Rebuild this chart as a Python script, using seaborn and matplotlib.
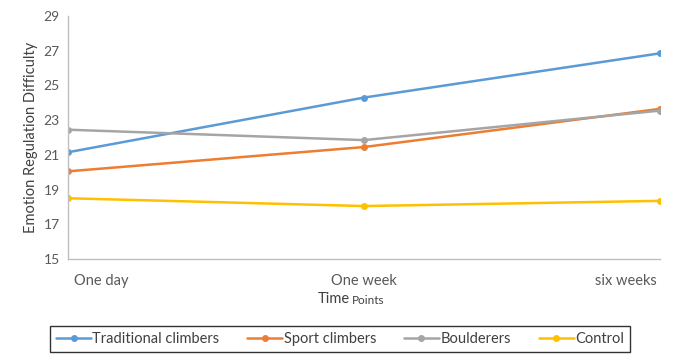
import pandas as pd
import matplotlib
matplotlib.use("Agg")
import matplotlib.pyplot as plt
import matplotlib.transforms as mtransforms
import seaborn as sns

time_points = ["One day", "One week", "six weeks"]
traditional = [21.15, 24.3, 26.85]
sport = [20.05, 21.45, 23.65]
boulderers = [22.45, 21.85, 23.55]
control = [18.5, 18.05, 18.35]

groups = ["Traditional climbers", "Sport climbers", "Boulderers", "Control"]
colors = ["#5B9BD5", "#ED7D31", "#A5A5A5", "#FFC000"]

df = pd.DataFrame({
    "Time": time_points * 4,
    "Score": traditional + sport + boulderers + control,
    "Group": [g for g in groups for _ in time_points],
})

sns.set_style("white")
plt.rcParams["font.family"] = ["Lato", "DejaVu Sans"]

fig = plt.figure(figsize=(6.79, 3.61), dpi=100)
ax = fig.add_axes([68 / 679, 1 - 259 / 361, (660 - 68) / 679, (259 - 16) / 361])

sns.lineplot(data=df, x="Time", y="Score", hue="Group", palette=colors,
             marker="o", markersize=5, markeredgewidth=0, linewidth=1.8,
             sort=False, ax=ax, legend=True)

ax.set_xlim(0, 2)
ax.set_ylim(15, 29)
ax.set_yticks(range(15, 30, 2))
ax.tick_params(axis="y", labelsize=10, colors="#595959", length=0, pad=6)
ax.tick_params(axis="x", length=0, pad=11)
ax.set_xticks([0, 1, 2])
ax.set_xticklabels(time_points, fontsize=10.5, color="#595959")
labels = ax.get_xticklabels()
labels[0].set_ha("left")
labels[0].set_transform(labels[0].get_transform()
                        + mtransforms.ScaledTranslation(6 / 100, 0, fig.dpi_scale_trans))
labels[2].set_ha("right")
labels[2].set_transform(labels[2].get_transform()
                        + mtransforms.ScaledTranslation(-3 / 100, 0, fig.dpi_scale_trans))

for side in ["top", "right"]:
    ax.spines[side].set_visible(False)
for side in ["left", "bottom"]:
    ax.spines[side].set_color("#BFBFBF")
    ax.spines[side].set_linewidth(1)

ax.set_ylabel("Emotion Regulation Difficulty", fontsize=10.5, color="#404040", labelpad=4)
ax.set_xlabel("")
fig.text(350 / 679, 1 - 299 / 361, "Time", fontsize=10.5, color="#404040", ha="right", va="center")
fig.text(352 / 679, 1 - 300 / 361, "Points", fontsize=8.5, color="#404040", ha="left", va="center")

handles, lbls = ax.get_legend_handles_labels()
ax.legend_.remove()
leg = fig.legend(handles, lbls, loc="center", bbox_to_anchor=(340 / 679, 1 - 339 / 361),
                 ncol=4, frameon=True, fancybox=False, edgecolor="black",
                 fontsize=10.5, handlelength=2.4, handletextpad=0.1, columnspacing=1.9,
                 borderpad=0.4)
leg.get_frame().set_linewidth(1)
for t in leg.get_texts():
    t.set_color("#404040")

fig.savefig("out.png", dpi=100)
